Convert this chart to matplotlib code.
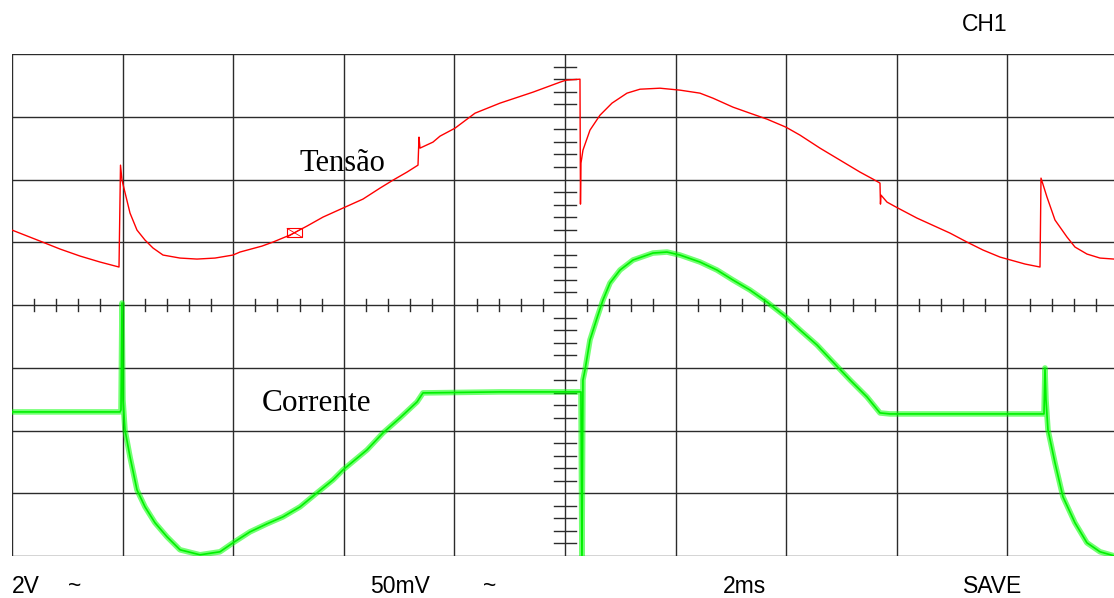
import numpy as np
import matplotlib
matplotlib.use('Agg')
import matplotlib.pyplot as plt
from matplotlib.patches import Rectangle

# Osciloscópio: 2 ms/div no eixo x, divisões no eixo y
tensao_t = [0.000, 0.506, 0.868, 1.230, 1.591, 1.935, 1.962, 1.989, 2.134, 2.260,
            2.405, 2.550, 2.731, 3.038, 3.345, 3.671, 3.996, 4.123, 4.521, 4.720,
            5.027, 5.335, 5.624, 5.986, 6.347, 6.655, 6.890, 7.143, 7.342, 7.360,
            7.378, 7.613, 7.740, 8.011, 8.373, 8.825, 9.421, 9.910, 10.018, 10.271,
            10.280, 10.289, 10.325, 10.452, 10.633, 10.850, 11.121, 11.356, 11.718, 12.080,
            12.441, 12.676, 13.038, 13.345, 13.653, 13.996, 14.250, 14.611, 14.973, 15.335,
            15.570, 15.696, 15.705, 15.714, 15.823, 15.986, 16.365, 16.962, 17.269, 17.559,
            17.866, 18.318, 18.590, 18.608, 18.716, 18.861, 19.078, 19.222, 19.439, 19.675,
            19.928]
tensao_v = [1.194, 1.019, 0.892, 0.780, 0.685, 0.605, 2.229, 1.990, 1.465, 1.194,
            1.035, 0.908, 0.796, 0.748, 0.732, 0.748, 0.796, 0.844, 0.939, 1.003,
            1.115, 1.258, 1.401, 1.545, 1.688, 1.863, 1.990, 2.118, 2.229, 2.675,
            2.500, 2.596, 2.691, 2.818, 3.057, 3.217, 3.392, 3.551, 3.583, 3.599,
            1.608, 2.261, 2.468, 2.787, 3.025, 3.217, 3.376, 3.439, 3.455, 3.424,
            3.376, 3.296, 3.153, 3.057, 2.962, 2.834, 2.707, 2.500, 2.309, 2.118,
            2.006, 1.943, 1.608, 1.752, 1.640, 1.561, 1.385, 1.146, 1.003, 0.876,
            0.764, 0.653, 0.605, 2.022, 1.720, 1.354, 1.083, 0.924, 0.812, 0.748,
            0.732]

corrente_t = [0.000, 0.868, 1.953, 1.971, 1.989, 2.007, 2.043, 2.134, 2.260, 2.405,
              2.586, 2.803, 3.038, 3.400, 3.761, 3.996, 4.304, 4.611, 4.901, 5.208,
              5.515, 5.805, 5.986, 6.420, 6.709, 7.016, 7.324, 7.432, 8.825, 9.910,
              10.289, 10.307, 10.325, 10.362, 10.452, 10.579, 10.687, 10.814, 10.995, 11.230,
              11.591, 11.844, 12.080, 12.441, 12.749, 13.038, 13.345, 13.653, 13.996, 14.250,
              14.557, 14.846, 15.154, 15.461, 15.696, 15.877, 17.866, 18.662, 18.680, 18.698,
              18.734, 18.861, 19.005, 19.222, 19.439, 19.675, 19.928]
corrente_v = [-1.704, -1.704, -1.704, -1.672, 0.032, -1.513, -1.990, -2.420, -2.946, -3.217,
              -3.471, -3.694, -3.901, -3.981, -3.933, -3.790, -3.615, -3.487, -3.376, -3.217,
              -2.994, -2.787, -2.627, -2.309, -2.038, -1.799, -1.545, -1.401, -1.385, -1.385,
              -1.385, -4.200, -1.194, -1.035, -0.557, -0.207, 0.080, 0.350, 0.557, 0.717,
              0.828, 0.844, 0.796, 0.685, 0.557, 0.398, 0.239, 0.048, -0.191, -0.398,
              -0.637, -0.908, -1.194, -1.465, -1.720, -1.736, -1.736, -1.736, -1.003, -1.513,
              -1.990, -2.516, -3.057, -3.471, -3.790, -3.933, -3.997]

marcador_t = 5.11
marcador_v = 1.15

W, H = 1114, 598
fig = plt.figure(figsize=(W / 100, H / 100), dpi=100)
ax = fig.add_axes([12 / W, (H - 556) / H, (W - 12) / W, (556 - 54) / H])
ax.set_xlim(0, 19.928)
ax.set_ylim(-4, 4)
ax.axis('off')

grid_kw = dict(color='#2b2b2b', lw=1.0, zorder=1)
for gx in np.arange(0, 19, 2):
    ax.axvline(gx, **grid_kw)
for gy in np.arange(-4, 5, 1):
    ax.axhline(gy, **grid_kw)

# marcas finas nos eixos centrais
for tx in np.arange(0, 19.9, 0.4):
    if abs(tx / 2 - round(tx / 2)) > 1e-6:
        ax.plot([tx, tx], [-0.096, 0.096], **grid_kw)
for ty in np.arange(-4, 4.01, 0.2):
    if abs(ty - round(ty)) > 1e-6:
        ax.plot([9.8, 10.2], [ty, ty], **grid_kw)

ax.plot(tensao_t, tensao_v, color='#ff0000', lw=1.0, zorder=3)
ax.add_patch(Rectangle((marcador_t - 0.135, marcador_v - 0.07), 0.27, 0.14,
                       fill=False, ec='#ff0000', lw=0.8, zorder=3))
ax.plot([marcador_t - 0.135, marcador_t + 0.135], [marcador_v - 0.07, marcador_v + 0.07],
        color='#ff0000', lw=0.6, zorder=3)
ax.plot([marcador_t - 0.135, marcador_t + 0.135], [marcador_v + 0.07, marcador_v - 0.07],
        color='#ff0000', lw=0.6, zorder=3)

# ruído da corrente representado por uma faixa clara em volta do traço
ax.plot(corrente_t, corrente_v, color='#00ff00', lw=4, alpha=0.55, zorder=2,
        solid_joinstyle='round')
ax.plot(corrente_t, corrente_v, color='#00f000', lw=1.2, zorder=3)

fig.text(299 / W, 1 - 171 / H, 'Tensão', family='Liberation Serif', fontsize=22, va='baseline')
fig.text(262 / W, 1 - 411 / H, 'Corrente', family='Liberation Serif', fontsize=22.5, va='baseline')

sans = dict(family='Liberation Sans', fontsize=16.5, va='baseline')
fig.text(985 / W, 1 - 31 / H, 'CH1', ha='center', **sans)
fig.text(12 / W, 1 - 593 / H, '2V', **sans)
fig.text(75 / W, 1 - 593 / H, '~', ha='center', **sans)
fig.text(370 / W, 1 - 593 / H, '50mV', **sans)
fig.text(490 / W, 1 - 593 / H, '~', ha='center', **sans)
fig.text(745 / W, 1 - 593 / H, '2ms', ha='center', **sans)
fig.text(993 / W, 1 - 593 / H, 'SAVE', ha='center', **sans)

fig.savefig('out.png', dpi=100)
